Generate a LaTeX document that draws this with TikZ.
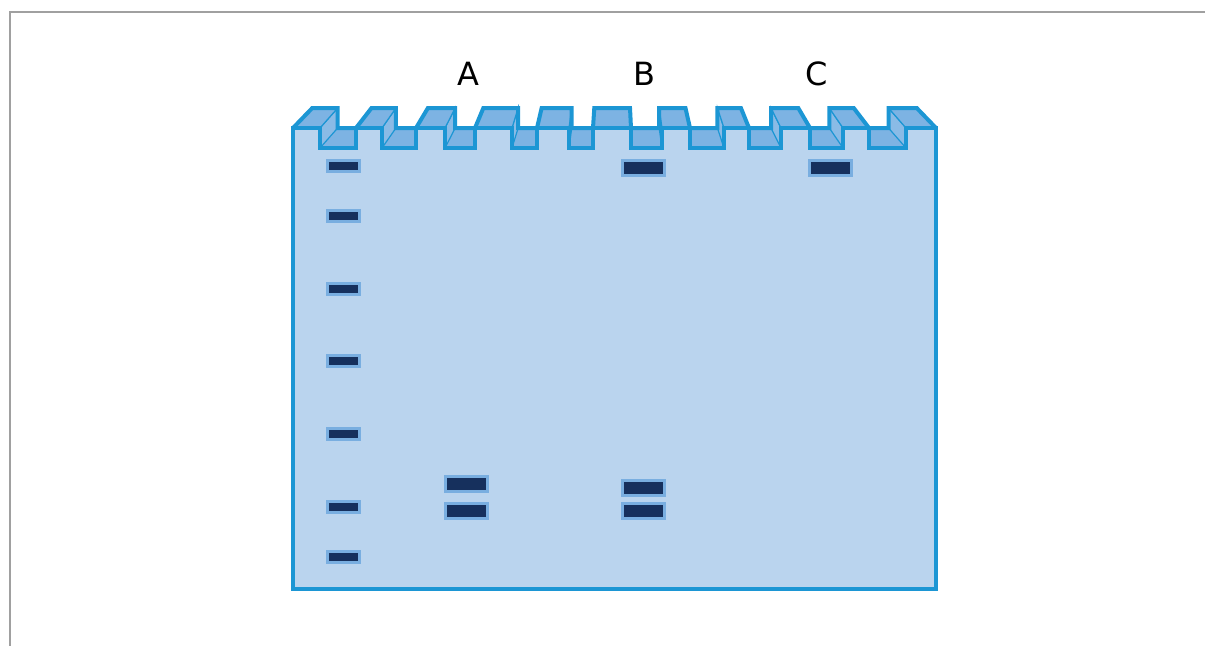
\documentclass[tikz,border=0pt]{standalone}
\usepackage{fontspec}
\setmainfont{DejaVu Sans}
\begin{document}
\definecolor{gelline}{RGB}{28,150,212}
\definecolor{gelfront}{RGB}{186,212,238}
\definecolor{geltop}{RGB}{125,179,227}
\definecolor{gelwall}{RGB}{138,187,230}
\definecolor{bandfill}{RGB}{22,48,93}
\definecolor{bandedge}{RGB}{121,174,224}
\definecolor{framegray}{RGB}{160,160,160}
\begin{tikzpicture}[x=1pt,y=-1pt,
  declare function={bk(\u)=614.5+(\u-614.5)*0.94;},
  edgethick/.style={draw=gelline,line width=4pt},
  edgethin/.style={draw=gelline,line width=1.2pt},
  ladderband/.style={draw=bandedge,line width=3pt,fill=bandfill,minimum width=32pt,minimum height=11pt,inner sep=0pt,outer sep=0pt},
  sampleband/.style={draw=bandedge,line width=3pt,fill=bandfill,minimum width=42pt,minimum height=15pt,inner sep=0pt,outer sep=0pt},
  lanelabel/.style={font=\fontsize{32}{36}\selectfont,anchor=base,inner sep=0pt}]
\useasboundingbox (0,0) rectangle (1205,646);
% frame corner
\draw[framegray,line width=1.3pt] (1205,12) -- (10,12) -- (10,646);

% well floors between neighbouring teeth (left front x / right front x)
\foreach \p/\n in {320/356,382/416,445/475,512/537,569/593,631/662,690/724,749/781,810/843,869/906}{
  \fill[geltop] (\p,148) -- (\n,148) -- ({min(\n,bk(\n))},128) -- ({max(\p,bk(\p))},128) -- cycle;
}
% tooth tops and side walls
\foreach \a/\b in {293/320,356/382,416/445,475/512,537/569,593/631,662/690,724/749,781/810,843/869,906/936}{
  \pgfmathtruncatemacro\rw{bk(\b)>\b+1}
  \pgfmathtruncatemacro\lw{bk(\a)<\a-1}
  \ifnum\rw=1
    \filldraw[fill=gelwall,edgethin] (\b,128) -- ({bk(\b)},108) -- ({bk(\b)},128) -- (\b,148) -- cycle;
  \fi
  \ifnum\lw=1
    \filldraw[fill=gelwall,edgethin] (\a,128) -- ({bk(\a)},108) -- ({bk(\a)},128) -- (\a,148) -- cycle;
  \fi
  \filldraw[fill=geltop,edgethin] (\a,128) -- (\b,128) -- ({bk(\b)},108) -- ({bk(\a)},108) -- cycle;
}
% front face of the gel with the notched top edge
\filldraw[fill=gelfront,edgethick] (293,589) -- (293,128)
  foreach \p/\n in {320/356,382/416,445/475,512/537,569/593,631/662,690/724,749/781,810/843,869/906}{
    -- (\p,128) -- (\p,148) -- (\n,148) -- (\n,128) }
  -- (936,128) -- (936,589) -- cycle;
% back silhouette of the comb
\draw[edgethick] (293,128)
  foreach \a/\b in {293/320,356/382,416/445,475/512,537/569,593/631,662/690,724/749,781/810,843/869,906/936}{
    -- ({min(\a,bk(\a))},128) -- ({bk(\a)},108) -- ({bk(\b)},108) -- ({max(\b,bk(\b))},128) };

% ladder bands
\foreach \y [count=\k] in {166,216,289,361,434,507,557}{
  \node[ladderband] (ladder\k) at (343.5,\y) {};
}
% sample bands
\node[sampleband] (a1) at (466.5,484) {};
\node[sampleband] (a2) at (466.5,510.5) {};
\node[sampleband] (b0) at (643,168) {};
\node[sampleband] (b1) at (643,487.5) {};
\node[sampleband] (b2) at (643,510.5) {};
\node[sampleband] (c0) at (830,168) {};

% lane labels
\node[lanelabel] (labA) at (468,85) {A};
\node[lanelabel] (labB) at (644,85) {B};
\node[lanelabel] (labC) at (817,85) {C};
\end{tikzpicture}
\end{document}
